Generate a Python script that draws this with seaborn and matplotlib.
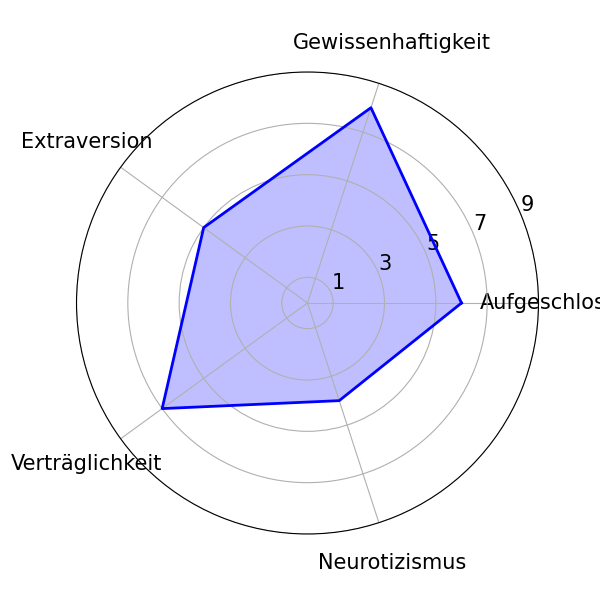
import numpy as np
import pandas as pd
import matplotlib
matplotlib.use("Agg")
import matplotlib.pyplot as plt
import seaborn as sns

categories = ["Aufgeschlossenheit", "Gewissenhaftigkeit", "Extraversion", "Verträglichkeit", "Neurotizismus"]
values = [6, 8, 5, 7, 4]
rticks = [1, 3, 5, 7, 9]

plt.rcParams['font.family'] = ['DejaVu Sans']
fig = plt.figure(figsize=(6, 6), dpi=100)
ax = fig.add_subplot(111, polar=True)

n = len(categories)
angles = np.linspace(0, 2 * np.pi, n, endpoint=False).tolist()
df = pd.DataFrame({"angle": angles + [2 * np.pi], "value": values + values[:1]})

sns.lineplot(data=df, x="angle", y="value", sort=False, estimator=None,
             color="blue", linewidth=2, ax=ax)
ax.fill(df["angle"], df["value"], color="blue", alpha=0.25)

ax.set_xticks(angles)
ax.set_xticklabels(categories, fontsize=15)
ax.tick_params(axis="x", pad=20)
ax.set_ylim(0, 9)
ax.set_yticks(rticks)
ax.set_yticklabels([str(t) for t in rticks], fontsize=15)
ax.set_xlabel("")
ax.set_ylabel("")

fig.savefig("out.png", dpi=100)
